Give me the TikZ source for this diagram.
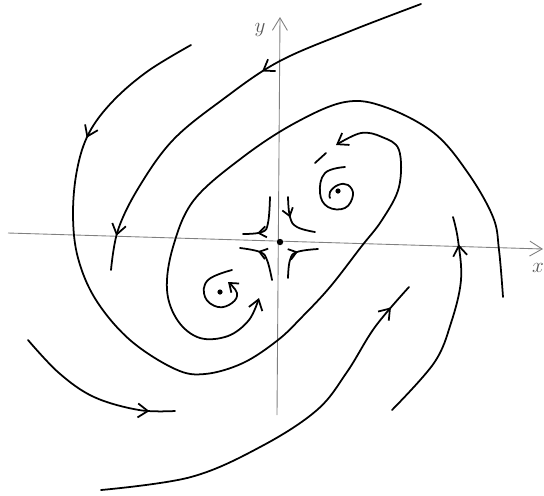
\documentclass[tikz,border=0pt]{standalone}
\usetikzlibrary{arrows.meta,decorations.markings}
\tikzset{
    >={Straight Barb[length=2mm,width=2.8mm]},
    orbit/.style={line width=1pt, line cap=round, line join=round},
    arrowpos/.style={postaction={decorate,
        decoration={markings, mark=at position #1 with {\arrow{>}}}}},
    smallarrowpos/.style={postaction={decorate,
        decoration={markings, mark=at position #1 with {\arrow{Straight Barb[length=1.5mm,width=2.2mm]}}}}}
}
\begin{document}
\begin{tikzpicture}[x=0.02cm,y=-0.02cm]
    \useasboundingbox (0,0) rectangle (544,495);

    %axis
    \draw[gray, line width=0.5pt, -{Straight Barb[length=2.5mm,width=3mm]}] (8,233) -- (543,249);
    \draw[gray, line width=0.5pt, -{Straight Barb[length=2.5mm,width=3mm]}] (277,415) -- (280,17);
    \node[gray!70!black, font=\large] at (260,30) {$y$};
    \node[gray!70!black, font=\large] at (538,268) {$x$};

    %equilibria
    \fill (280,242) circle (3.2);
    \fill (338,191) circle (2.6);
    \fill (220,292) circle (2.6);

    %saddle
    \draw[orbit, smallarrowpos=0.75] plot[smooth, tension=0.7] coordinates {(270,197) (268,223) (262,232) (243,234)};
    \draw[orbit, smallarrowpos=0.4] plot[smooth, tension=0.7] coordinates {(288,197) (290,217) (297,227) (315,232)};
    \draw[orbit, smallarrowpos=0.65] plot[smooth, tension=0.7] coordinates {(272,280) (267,260) (260,252) (240,248)};
    \draw[orbit, smallarrowpos=0.6] plot[smooth, tension=0.7] coordinates {(288,278) (290,260) (297,252) (318,249)};

    %spirals
    \draw[orbit] plot[smooth, tension=0.7] coordinates {(345,167) (325,173) (320,193) (328,207) (345,208) (353,195) (348,185) (338,185) (330,192) (330,198)};
    \draw[orbit, -{Straight Barb[length=1.6mm,width=2.4mm]}] plot[smooth, tension=0.7] coordinates {(232,270) (208,280) (205,297) (218,307) (232,303) (237,293) (228,282)};
    \draw[orbit] (315,163) -- (326,153);

    %outer orbits
    \draw[orbit, arrowpos=0.4, arrowpos=0.92] plot[smooth, tension=0.6] coordinates {(421,4) (348,32) (278,62) (222,100) (173,140) (139,187) (118,230) (111,270)};
    \draw[orbit, arrowpos=0.17, ->] plot[smooth, tension=0.6] coordinates {(191,45) (148,71) (113,101) (89,133) (77,170) (73,215) (78,258) (96,300) (130,340) (175,369) (205,374) (243,363) (278,340) (302,317) (330,287) (361,247) (382,220) (399,187) (399,150) (382,137) (361,133) (336,145)};
    \draw[orbit, ->] plot[smooth, tension=0.6] coordinates {(503,297) (499,250) (493,217) (468,173) (434,133) (385,107) (345,102) (295,123) (243,157) (194,200) (173,247) (167,290) (178,321) (200,338) (228,336) (249,320) (259,298)};
    \draw[orbit, arrowpos=0.85] plot[smooth, tension=0.6] coordinates {(28,340) (59,373) (94,397) (139,410) (175,411)};
    \draw[orbit, arrowpos=0.87] plot[smooth, tension=0.6] coordinates {(392,410) (434,363) (451,323) (461,280) (458,240) (453,217)};
    \draw[orbit, arrowpos=0.93] plot[smooth, tension=0.6] coordinates {(101,490) (191,477) (262,446) (317,410) (347,372) (375,327) (409,287)};
\end{tikzpicture}
\end{document}
